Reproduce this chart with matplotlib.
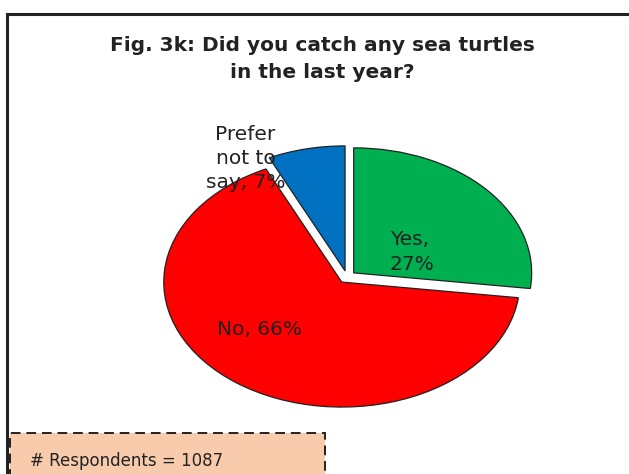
import matplotlib
matplotlib.use("Agg")
import matplotlib.pyplot as plt
from matplotlib.patches import Rectangle

# survey answers, share of respondents (%)
answers = ["Yes", "No", "Prefer not to say"]
shares = [27, 66, 7]
colors = ["#00B050", "#FF0000", "#0070C0"]
explode = [0.05, 0.05, 0.05]
n_respondents = 1087

W, H = 629, 474
fig = plt.figure(figsize=(W / 100, H / 100), dpi=100)

# outer frame (right and bottom edges run off the canvas)
fig.patches.append(Rectangle((7 / W, -0.1), 1.2, (H - 14) / H + 0.1,
                             transform=fig.transFigure, fill=False,
                             edgecolor="#222222", linewidth=2.2))

title_kw = dict(ha="center", va="center", fontsize=14.5, fontweight="bold",
                color="#222222")
fig.text(322 / W, 1 - 45 / H, "Fig. 3k: Did you catch any sea turtles", **title_kw)
fig.text(322 / W, 1 - 72 / H, "in the last year?", **title_kw)

# pie is stretched horizontally: separate x/y scale
cx, cy, rx, ry = 347, 277, 178, 125
lim = 1.25
ax = fig.add_axes([(cx - lim * rx) / W, (H - cy - lim * ry) / H,
                   2 * lim * rx / W, 2 * lim * ry / H])
ax.pie(shares, colors=colors, explode=explode, startangle=90,
       counterclock=False,
       wedgeprops=dict(edgecolor="#222222", linewidth=0.9))
ax.set_aspect("auto")
ax.set_xlim(-lim, lim)
ax.set_ylim(-lim, lim)
ax.axis("off")

lbl = dict(fontsize=14.5, color="#222222", linespacing=1.35)
ax.text(0.24, 0.2, f"{answers[0]},\n{shares[0]}%", ha="left", va="center", **lbl)
ax.text(-0.49, -0.42, f"{answers[1]}, {shares[1]}%", ha="center", va="center", **lbl)
ax.text(-0.57, 0.95, f"Prefer\nnot to\nsay, {shares[2]}%", ha="center",
        va="center", **lbl)

# respondents count box
fig.patches.append(Rectangle((10 / W, -0.05), 315 / W, (H - 433) / H + 0.05,
                             transform=fig.transFigure, facecolor="#F8CBAD",
                             edgecolor="#222222", linewidth=1.4,
                             linestyle=(0, (5, 3))))
fig.text(30 / W, 1 - 461 / H, f"# Respondents = {n_respondents}",
         ha="left", va="center", fontsize=12, color="#222222")

fig.savefig("out.png", dpi=100)
